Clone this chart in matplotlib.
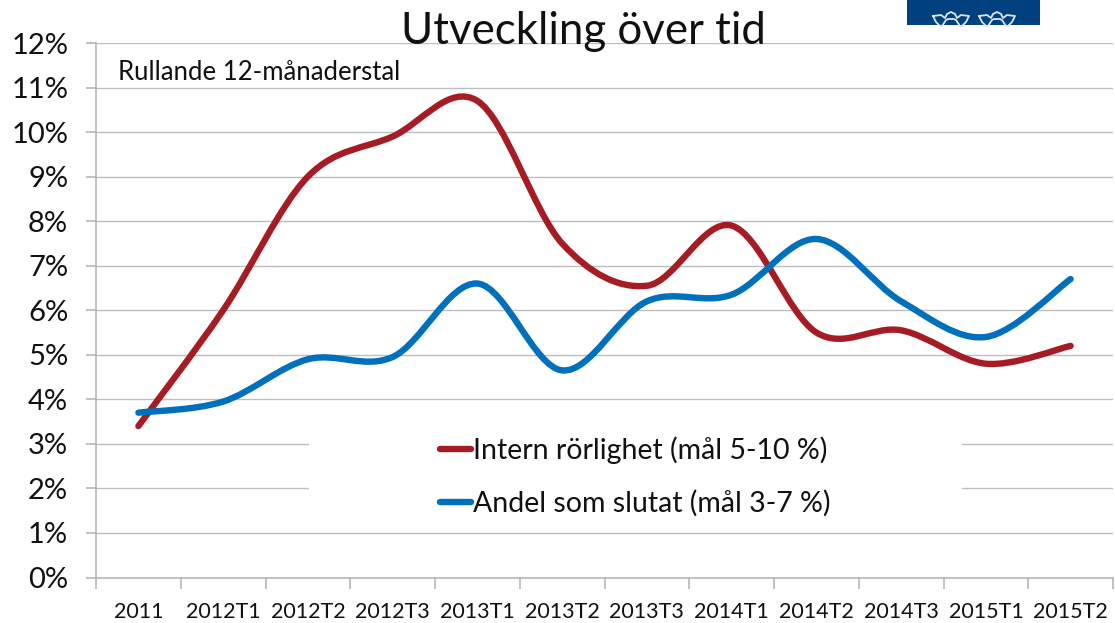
import numpy as np
import matplotlib
matplotlib.use("Agg")
import matplotlib.pyplot as plt
from matplotlib.path import Path
from matplotlib.patches import PathPatch, Rectangle
from matplotlib.lines import Line2D

plt.rcParams['font.family'] = ['Lato', 'DejaVu Sans']

categories = ['2011', '2012T1', '2012T2', '2012T3', '2013T1', '2013T2', '2013T3',
              '2014T1', '2014T2', '2014T3', '2015T1', '2015T2']
intern = [3.4, 6.0, 9.0, 9.9, 10.7, 7.5, 6.55, 7.9, 5.5, 5.55, 4.8, 5.2]
slutat = [3.7, 3.95, 4.9, 4.95, 6.6, 4.65, 6.2, 6.35, 7.6, 6.2, 5.4, 6.7]
yticks = list(range(0, 13))
RED, BLUE = '#A61C24', '#0070BC'
W, H = 1115, 623


def smooth(xs, ys):
    """Excel-style smoothed line through the data points (cubic Bezier)."""
    n = len(xs)
    verts, codes = [(xs[0], ys[0])], [Path.MOVETO]
    for i in range(n - 1):
        i0, i3 = max(i - 1, 0), min(i + 2, n - 1)
        c1 = (xs[i] + (xs[i + 1] - xs[i0]) / 6, ys[i] + (ys[i + 1] - ys[i0]) / 6)
        c2 = (xs[i + 1] - (xs[i3] - xs[i]) / 6, ys[i + 1] - (ys[i3] - ys[i]) / 6)
        verts += [c1, c2, (xs[i + 1], ys[i + 1])]
        codes += [Path.CURVE4] * 3
    return Path(verts, codes)


fig = plt.figure(figsize=(W / 100, H / 100), dpi=100)
ax = fig.add_axes([96 / W, 1 - 577.5 / H, (1113 - 96) / W, (577.5 - 43) / H])
ax.set_xlim(-0.5, len(categories) - 0.5)
ax.set_ylim(0, 12)
ax.yaxis.grid(True, color='#BDBDBD', lw=1.0)
ax.set_axisbelow(True)
for s in ('top', 'right'):
    ax.spines[s].set_visible(False)
for s in ('left', 'bottom'):
    ax.spines[s].set_color('#B0B0B0')
    ax.spines[s].set_linewidth(1.1)

ax.set_yticks(yticks)
ax.set_yticklabels([f'{v}%' for v in yticks], fontsize=21, color='#111111')
ax.tick_params(axis='y', length=7, width=1.1, color='#B0B0B0', pad=13)
ax.set_xticks(np.arange(-0.5, len(categories), 1))
ax.set_xticklabels([])
ax.tick_params(axis='x', length=8, width=1.1, color='#B0B0B0')
xs = np.arange(len(categories))
for x, c in zip(xs, categories):
    ax.annotate(c, (x, 0), xytext=(0, -34), textcoords='offset pixels',
                ha='center', va='center', fontsize=15.5, color='#111111', annotation_clip=False)

# white legend background hides the gridlines
ax.add_patch(Rectangle((2.01, 1.6), 7.71, 2.0, fc='white', ec='none', zorder=1.5))

for vals, col in ((intern, RED), (slutat, BLUE)):
    ax.add_patch(PathPatch(smooth(xs, vals), fc='none', ec=col, lw=4.6, capstyle='round',
                           joinstyle='round', zorder=3))

# legend
for y, col, txt in ((449, RED, 'Intern rörlighet (mål 5-10 %)'),
                    (502, BLUE, 'Andel som slutat (mål 3-7 %)')):
    fig.add_artist(Line2D([440 / W, 471 / W], [1 - y / H] * 2, color=col, lw=4.6,
                          solid_capstyle='round'))
    fig.text(473 / W, 1 - (y + 1) / H, txt, fontsize=20.5, va='center', ha='left', color='#111111')

fig.text(583 / W, 1 - 31 / H, 'Utveckling över tid', fontsize=31.5, ha='center', va='center',
         color='#111111', zorder=5)
fig.text(118 / W, 1 - 72 / H, 'Rullande 12-månaderstal', fontsize=18.5, ha='left', va='center',
         color='#111111')

# logo block with two crowns
overlay = fig.add_axes([0, 0, 1, 1], facecolor='none')
overlay.set_xlim(0, W)
overlay.set_ylim(H, 0)
overlay.axis('off')
overlay.add_patch(Rectangle((907, 0), 133, 25, fc='#02417F', ec='none'))
for cx in (951, 997):
    px = np.array([-18, -10, -6, -4, 0, 4, 6, 10, 18, 15, 11, 9, 5, 3, 0, -3, -5, -9, -11, -15, -18])
    py = np.array([16, 15, 18, 14, 12, 14, 18, 15, 16, 22, 26, 26, 20, 19, 19, 19, 20, 26, 26, 22, 16])
    overlay.plot(cx + px, py, color='#DCE6F0', lw=1.3, solid_joinstyle='round')
overlay.add_patch(Rectangle((900, 25), 150, 4, fc='white', ec='none'))

fig.savefig('out.png', dpi=100)
